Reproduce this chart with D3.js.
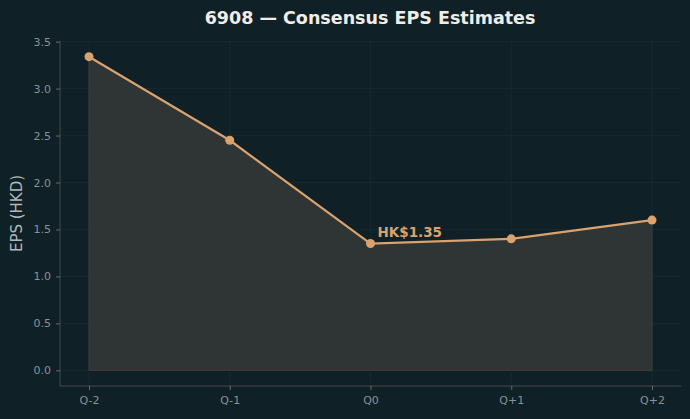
<!DOCTYPE html>
<html><head><meta charset="utf-8">
<script src="https://cdn.jsdelivr.net/npm/d3@7"></script>
<style>html,body{margin:0;padding:0;background:#0f2027;}svg{display:block;}</style>
</head><body>
<svg id="chart" width="690" height="419"></svg>
<script>
const categories = ["Q-2", "Q-1", "Q0", "Q+1", "Q+2"];
const epsValues = [3.34, 2.45, 1.35, 1.40, 1.60];
const yTicks = [0.0, 0.5, 1.0, 1.5, 2.0, 2.5, 3.0, 3.5];
const titleText = "6908 — Consensus EPS Estimates";
const yLabel = "EPS (HKD)";
const annotIndex = 2;
const annotText = "HK$1.35";

const W = 690, H = 419;
const m = {left: 60, right: 9, top: 41, bottom: 33};
const svg = d3.select("#chart");
svg.append("rect").attr("width", W).attr("height", H).attr("fill", "#0f2027");

const x = d3.scaleLinear().domain([-0.206, categories.length - 1 + 0.206]).range([m.left, W - m.right]);
const y = d3.scaleLinear().domain([-0.167, 3.507]).range([H - m.bottom, m.top]);

const font = "DejaVu Sans, sans-serif";
const g = svg.append("g");

// grid
g.selectAll(".gy").data(yTicks).enter().append("line")
  .attr("x1", m.left).attr("x2", W - m.right)
  .attr("y1", d => y(d)).attr("y2", d => y(d))
  .attr("stroke", "#1b2b31").attr("stroke-width", 0.8);
g.selectAll(".gx").data(categories).enter().append("line")
  .attr("x1", (d, i) => x(i)).attr("x2", (d, i) => x(i))
  .attr("y1", m.top).attr("y2", H - m.bottom)
  .attr("stroke", "#1b2b31").attr("stroke-width", 0.8);

// area
const area = d3.area().x((d, i) => x(i)).y0(y(0)).y1(d => y(d));
g.append("path").datum(epsValues).attr("d", area)
  .attr("fill", "#2f3434").attr("stroke", "#3e3f38").attr("stroke-width", 1);

// line
const line = d3.line().x((d, i) => x(i)).y(d => y(d));
g.append("path").datum(epsValues).attr("d", line)
  .attr("fill", "none").attr("stroke", "#d9a26e").attr("stroke-width", 2.2);
g.selectAll(".pt").data(epsValues).enter().append("circle")
  .attr("cx", (d, i) => x(i)).attr("cy", d => y(d)).attr("r", 4.5)
  .attr("fill", "#d9a26e");

// axes
const yAxis = d3.axisLeft(y).tickValues(yTicks).tickFormat(d3.format(".1f")).tickSize(4).tickPadding(5);
const yG = svg.append("g").attr("transform", `translate(${m.left},0)`).call(yAxis);
const xAxis = d3.axisBottom(x).tickValues(d3.range(categories.length)).tickFormat(i => categories[i]).tickSize(4).tickPadding(6);
const xG = svg.append("g").attr("transform", `translate(0,${H - m.bottom})`).call(xAxis);
[yG, xG].forEach(a => {
  a.select(".domain").attr("stroke", "#444a4c").attr("stroke-width", 1);
  a.selectAll(".tick line").attr("stroke", "#666b6d");
  a.selectAll(".tick text").attr("fill", "#8a9294").attr("font-size", 11).attr("font-family", font);
});
yG.select(".domain").attr("d", `M0,${m.top}V${H - m.bottom}`);
xG.select(".domain").attr("d", `M${m.left},0H${W - m.right}`);

// title
svg.append("text").attr("x", 370).attr("y", 24)
  .attr("text-anchor", "middle").attr("fill", "#f0ede6")
  .attr("font-family", font).attr("font-weight", "bold").attr("font-size", 17.5).text(titleText);

// y label
svg.append("text").attr("transform", `translate(22,${(175 + 252) / 2}) rotate(-90)`)
  .attr("text-anchor", "middle").attr("fill", "#b3b8ba").attr("font-family", font)
  .attr("font-size", 15).text(yLabel);

// annotation
svg.append("text").attr("x", x(annotIndex) + 7).attr("y", y(epsValues[annotIndex]) - 7)
  .attr("fill", "#d9a26e").attr("font-family", font).attr("font-weight", "bold")
  .attr("font-size", 13.5).text(annotText);
</script>
</body></html>
